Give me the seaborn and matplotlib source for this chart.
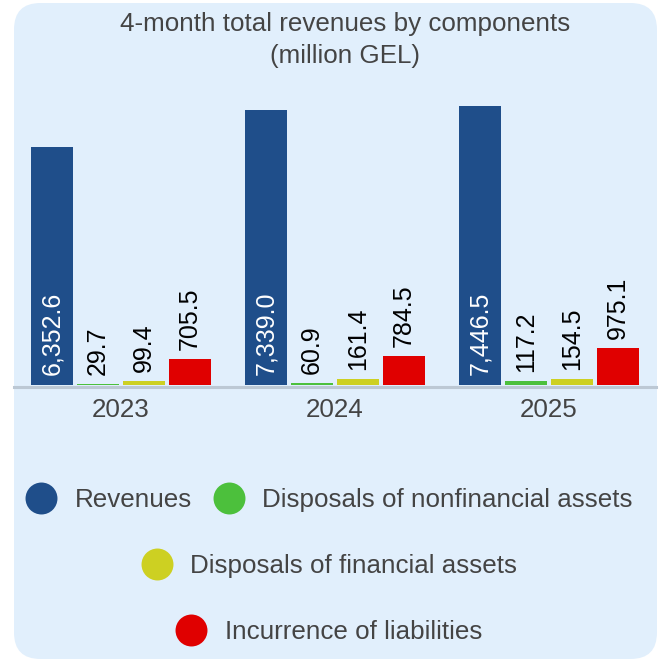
import pandas as pd
import matplotlib.pyplot as plt
import seaborn as sns
from matplotlib.patches import FancyBboxPatch
from matplotlib.lines import Line2D

# Data
years = ['2023', '2024', '2025']
components = ['Revenues', 'Disposals of nonfinancial assets',
              'Disposals of financial assets', 'Incurrence of liabilities']
revenues = [6352.6, 7339.0, 7446.5]
nonfin_assets = [29.7, 60.9, 117.2]
fin_assets = [99.4, 161.4, 154.5]
liabilities = [705.5, 784.5, 975.1]
colors = ['#1f4e8a', '#4cc03c', '#cdd022', '#e00000']

values = [revenues, nonfin_assets, fin_assets, liabilities]
data = pd.DataFrame({
    'Year': [y for comp in components for y in years],
    'Component': [comp for comp in components for _ in years],
    'Value': [v for vals in values for v in vals],
})

sns.set_theme(style='white')
plt.rcParams['font.family'] = ['Liberation Sans', 'DejaVu Sans']

fig = plt.figure(figsize=(6.61, 6.63), dpi=100)
W, H = 661, 663
FS = 18.7

# rounded background panel
bg = FancyBboxPatch((14 / W, 4 / H), 643 / W, 656 / H,
                    boxstyle='round,pad=0,rounding_size=0.04',
                    transform=fig.transFigure, facecolor='#e1effc',
                    edgecolor='none', zorder=-1)
fig.patches.append(bg)

ax = fig.add_axes([14 / W, (H - 385) / H, 642 / W, 305 / H])
ax.set_facecolor('none')
sns.barplot(data=data, x='Year', y='Value', hue='Component', hue_order=components,
            palette=colors, width=0.86, gap=0.07, legend=False, ax=ax,
            saturation=1, edgecolor='none', err_kws={'linewidth': 0})
ax.set_xlim(-0.5, 2.5)
ax.set_ylim(0, 8140)

for i, cont in enumerate(ax.containers):
    for bar, v in zip(cont, values[i]):
        x = bar.get_x() + bar.get_width() / 2
        if i == 0:
            ax.annotate(f'{v:,.1f}', xy=(x, 0), xytext=(0, 7), textcoords='offset points',
                        rotation=90, ha='center', va='bottom', color='white', fontsize=18)
        else:
            ax.annotate(f'{v:,.1f}', xy=(x, v), xytext=(0, 6.5), textcoords='offset points',
                        rotation=90, ha='center', va='bottom', color='black', fontsize=18)

for s in ['top', 'left', 'right']:
    ax.spines[s].set_visible(False)
ax.spines['bottom'].set_color('#bcc8d4')
ax.spines['bottom'].set_linewidth(2.2)
ax.spines['bottom'].set_position(('outward', 1.2))
ax.set_yticks([])
ax.set_xlabel('')
ax.set_ylabel('')
ax.tick_params(axis='x', length=0, pad=8, labelsize=FS, labelcolor='#444444')

fig.text(345 / W, 1 - 40 / H, '4-month total revenues by components\n(million GEL)',
         ha='center', va='center', fontsize=FS, color='#444444', linespacing=1.45)

# legend rows
def handle(c):
    return Line2D([], [], marker='o', linestyle='none', markersize=23,
                  markerfacecolor=c, markeredgecolor='none')

rows = [([0, 1], 1 - 500 / H), ([2], 1 - 566 / H), ([3], 1 - 632 / H)]
for idx, yy in rows:
    leg = fig.legend([handle(colors[k]) for k in idx], [components[k] for k in idx],
                     loc='center', bbox_to_anchor=(0.5, yy), ncol=len(idx),
                     frameon=False, fontsize=FS, handlelength=1.0, handletextpad=0.8,
                     columnspacing=0.9, labelcolor='#444444')

fig.savefig('out.png', dpi=100, facecolor='white')
